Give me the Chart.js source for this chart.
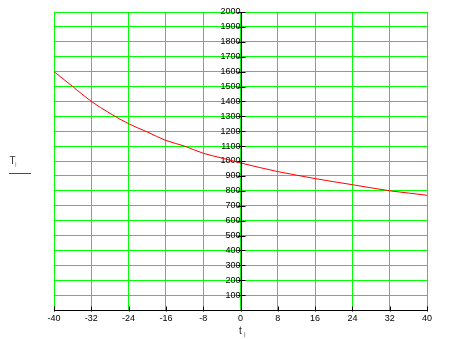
<!DOCTYPE html>
<html>
<head>
<meta charset="utf-8">
<script src="https://cdn.jsdelivr.net/npm/chart.js@4/dist/chart.umd.min.js"></script>
<style>
html,body{margin:0;padding:0;background:#fff;}
#wrap{width:453px;height:339px;position:relative;}
</style>
</head>
<body>
<div id="wrap"><canvas id="c" width="453" height="339"></canvas></div>
<script>
// Data
const tValues = [-40,-36,-32,-28,-24,-20,-16,-12,-8,-4,0,4,8,12,16,20,24,28,32,36,40];
const TValues = [1600,1500,1400,1320,1250,1195,1138,1100,1052,1020,987,957,929,905,882,861,841,820,800,785,770];
const xTickStep = 8;
const xMin = -40, xMax = 40;
const yTickStep = 100;
const yMin = 0, yMax = 2000;
const seriesName = 'T';
const seriesSub = 'i';
const xTitle = 't';
const xTitleSub = 'i';

const points = tValues.map((t, i) => ({x: t, y: TValues[i]}));
const FONT = '"Liberation Sans", Arial, sans-serif';

const axesPlugin = {
  id: 'axesPlugin',
  afterDraw(chart) {
    const ctx = chart.ctx;
    const xs = chart.scales.x, ys = chart.scales.y;
    const x0 = Math.round(xs.getPixelForValue(0)) + 0.5;
    const y0 = Math.round(ys.getPixelForValue(0)) + 0.5;
    ctx.save();
    ctx.strokeStyle = '#000';
    ctx.lineWidth = 1;
    ctx.beginPath();
    // x axis line
    ctx.moveTo(chart.chartArea.left, y0);
    ctx.lineTo(chart.chartArea.right + 1, y0);
    // y axis line
    ctx.moveTo(x0, chart.chartArea.top);
    ctx.lineTo(x0, chart.chartArea.bottom);
    // x ticks
    xs.ticks.forEach(tk => {
      const px = Math.round(xs.getPixelForValue(tk.value)) + 0.5;
      ctx.moveTo(px, y0 - 4);
      ctx.lineTo(px, y0 + 1);
    });
    // y ticks
    ys.ticks.forEach(tk => {
      if (tk.value === 0) return;
      const py = Math.round(ys.getPixelForValue(tk.value)) + 0.5;
      ctx.moveTo(x0 - 4, py);
      ctx.lineTo(x0 + 4, py);
    });
    ctx.stroke();

    // x axis title with subscript
    ctx.fillStyle = '#222';
    ctx.textBaseline = 'alphabetic';
    ctx.textAlign = 'left';
    ctx.font = '10px ' + FONT;
    ctx.fillText(xTitle, x0 - 2.5, 334);
    ctx.font = '7px ' + FONT;
    ctx.fillStyle = '#666';
    ctx.fillText(xTitleSub, x0 + 2.5, 337);

    // legend at left
    ctx.fillStyle = '#333';
    ctx.font = '10px ' + FONT;
    ctx.fillText(seriesName, 9.5, 164);
    ctx.font = '7px ' + FONT;
    ctx.fillStyle = '#888';
    ctx.fillText(seriesSub, 15, 167);
    ctx.strokeStyle = '#ff0000';
    ctx.beginPath();
    ctx.moveTo(9, 173.5);
    ctx.lineTo(31, 173.5);
    ctx.stroke();
    ctx.restore();
  }
};

new Chart(document.getElementById('c'), {
  type: 'line',
  data: {
    datasets: [{
      label: seriesName,
      data: points,
      borderColor: '#ff0000',
      borderWidth: 1,
      pointRadius: 0,
      fill: false,
      cubicInterpolationMode: 'monotone'
    }]
  },
  options: {
    responsive: false,
    animation: false,
    devicePixelRatio: 1,
    layout: {padding: {left: 54, right: 26, top: 12, bottom: 0}},
    plugins: {legend: {display: false}, tooltip: {enabled: false}},
    scales: {
      x: {
        type: 'linear',
        position: 'bottom',
        min: xMin, max: xMax,
        afterFit(s) { s.height = 29; },
        ticks: {
          stepSize: xTickStep,
          color: '#000',
          font: {family: FONT, size: 9},
          padding: 3,
          maxRotation: 0,
          autoSkip: false
        },
        grid: {color: '#00ff00', lineWidth: 1, drawTicks: false},
        border: {display: false}
      },
      y: {
        type: 'linear',
        position: {x: 0},
        min: yMin, max: yMax,
        afterFit(s) { s.width = 0; },
        ticks: {
          stepSize: yTickStep,
          color: '#000',
          font: {family: FONT, size: 9},
          padding: 4,
          autoSkip: false,
          callback: v => (v === 0 ? '' : String(v))
        },
        grid: {color: '#00ff00', lineWidth: 1, drawTicks: false},
        border: {display: false}
      }
    }
  },
  plugins: [axesPlugin]
});
</script>
</body>
</html>
